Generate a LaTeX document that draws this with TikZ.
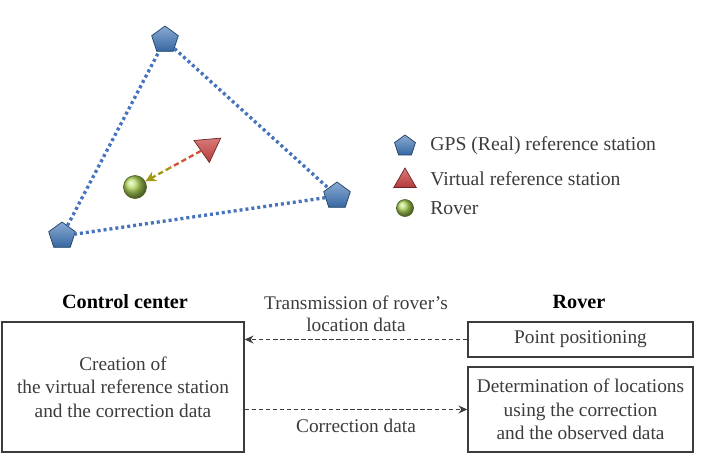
\documentclass[tikz,border=0pt]{standalone}
\usepackage{fontspec}
\setmainfont{Liberation Serif}
\usetikzlibrary{arrows.meta,shapes.geometric,shadings}
\definecolor{gpsblue}{RGB}{60,115,180}
\definecolor{dotblue}{RGB}{70,115,190}
\definecolor{vrsred}{RGB}{200,65,65}
\definecolor{rovgreen}{RGB}{175,215,90}
\definecolor{txtgray}{RGB}{60,60,60}

\tikzset{
  gps/.style={regular polygon, regular polygon sides=5, inner sep=0pt,
    minimum size=#1, draw=gpsblue!55!black, top color=gpsblue!60!white,
    bottom color=gpsblue!90!black},
  gps/.default=0.56cm,
  vrsmark/.style={regular polygon, regular polygon sides=3, inner sep=0pt,
    minimum size=#1, draw=vrsred!55!black, top color=vrsred!70!white,
    bottom color=vrsred!90!black},
  vrsmark/.default=0.62cm,
  rovmark/.style={circle, inner sep=0pt, minimum size=#1, shading=ball,
    ball color=rovgreen, draw=rovgreen!45!black, thin},
  rovmark/.default=0.46cm,
  dotline/.style={dotblue, line width=1.9pt, dash pattern=on 1.7pt off 1.7pt},
  legtext/.style={anchor=west, inner sep=0pt, text=txtgray, font=\fontsize{11.2}{13}\selectfont},
  box/.style={draw=txtgray, thick, align=center, text=txtgray,
    font=\fontsize{11}{13.4}\selectfont},
  head/.style={font=\fontsize{11.5}{13}\selectfont\bfseries},
  flow/.style={txtgray, thick, dash pattern=on 2.5pt off 1.5pt,
    -{Stealth[length=5pt,width=4.5pt]}},
  flowlabel/.style={text=txtgray, align=center, font=\fontsize{11}{12.5}\selectfont}
}

\begin{document}
\begin{tikzpicture}[x=0.2mm, y=-0.2mm]
    \useasboundingbox (0,0) rectangle (708,472);

    % reference stations and the virtual one
    \node[gps] (gpsA) at (165,40) {};
    \node[gps] (gpsB) at (337,196) {};
    \node[gps] (gpsC) at (62,236) {};
    \draw[dotline] (gpsA) -- (gpsB);
    \draw[dotline] (gpsB) -- (gpsC);
    \draw[dotline] (gpsC) -- (gpsA);

    \node[vrsmark, shape border rotate=-55] (vrs) at (208,147) {};
    \node[rovmark] (rover) at (135,187) {};
    \path (vrs) -- (rover) coordinate[pos=0.55] (mid);
    \draw[vrsred!80!orange, line width=1.3pt, dash pattern=on 3pt off 1.8pt] (vrs) -- (mid);
    \draw[olive!70!yellow!90!black, line width=1.3pt, dash pattern=on 3pt off 1.8pt,
        -{Stealth[length=6pt,width=6pt]}] (mid) -- (rover);

    % legend
    \node[gps=0.44cm] (lgGps) at (405,146) {};
    \node[vrsmark=0.52cm] (lgVrs) at (405,181) {};
    \node[rovmark=0.34cm] (lgRov) at (405,208) {};
    \node[legtext] (lgGpsTxt) at (430,146) {GPS (Real) reference station};
    \node[legtext] (lgVrsTxt) at (430,179) {Virtual reference station};
    \node[legtext] (lgRovTxt) at (430,208) {Rover};

    % control center and rover
    \node[head] (ccHead) at (125,302) {Control center};
    \node[head] (rvHead) at (579,302) {Rover};
    \node[box, minimum width=4.84cm, minimum height=2.6cm] (cc) at (123,387)
        {Creation of\\the virtual reference station\\and the correction data};
    \node[box, minimum width=4.5cm, minimum height=0.7cm] (pp) at (580.5,339.5)
        {Point positioning};
    \node[box, minimum width=4.5cm, minimum height=1.7cm] (det) at (580.5,409.5)
        {Determination of locations\\using the correction\\and the observed data};

    \draw[flow] (pp.west) -- (pp.west -| cc.east)
        node[flowlabel, midway, above=1pt] {Transmission of rover's\\location data};
    \draw[flow] (det.west -| cc.east) -- (det.west)
        node[flowlabel, midway, below=2pt] {Correction data};
\end{tikzpicture}
\end{document}
